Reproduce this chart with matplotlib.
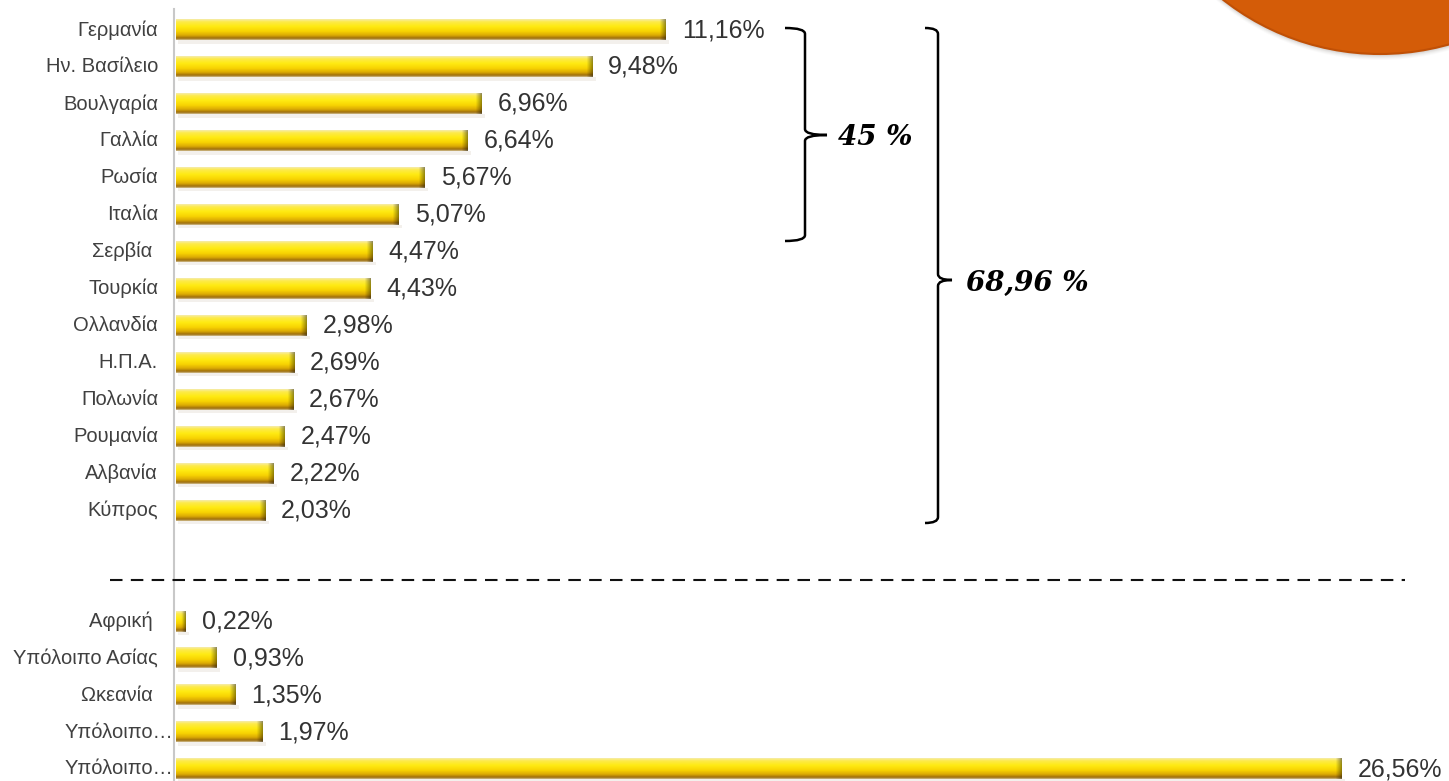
import matplotlib.pyplot as plt
import numpy as np
from matplotlib.colors import LinearSegmentedColormap
from matplotlib.patches import Ellipse, PathPatch
from matplotlib.path import Path

countries = ['Γερμανία', 'Ην. Βασίλειο', 'Βουλγαρία', 'Γαλλία', 'Ρωσία', 'Ιταλία',
             'Σερβία ', 'Τουρκία', 'Ολλανδία', 'Η.Π.Α.', 'Πολωνία', 'Ρουμανία',
             'Αλβανία', 'Κύπρος']
country_vals = [11.16, 9.48, 6.96, 6.64, 5.67, 5.07, 4.47, 4.43, 2.98, 2.69, 2.67,
                2.47, 2.22, 2.03]

regions = ['Αφρική ', 'Υπόλοιπο Ασίας', 'Ωκεανία ', 'Υπόλοιπο…', 'Υπόλοιπο…']
region_vals = [0.22, 0.93, 1.35, 1.97, 26.56]

top6_total = '45 %'
top14_total = '68,96 %'

labels = countries + regions
values = country_vals + region_vals
# two empty rows between the groups
pos = list(range(len(countries))) + list(range(len(countries) + 2, len(countries) + 2 + len(regions)))

plt.rcParams['font.family'] = ['Liberation Sans', 'DejaVu Sans']

fig = plt.figure(figsize=(14.49, 7.81), dpi=100)
ax = fig.add_axes([0, 0, 1, 1])
ax.axis('off')

PX_X = 43.9   # pixels per percent
PX_Y = 36.95  # pixels per row
XMIN, XMAX = -176 / PX_X, (1449 - 176) / PX_X
YTOP, YBOT = -30 / PX_Y, 20 + 12 / PX_Y


def px(x):
    return (x - 176) / PX_X


def py(y):
    return (y - 30) / PX_Y


bar_h = 0.56
grad = LinearSegmentedColormap.from_list('gold', [
    (0.00, '#f6eca8'), (0.12, '#fdea4a'), (0.35, '#ffea12'), (0.58, '#f8d402'),
    (0.78, '#dcaa04'), (0.93, '#9c6c0c'), (1.00, '#cdb886')])
rows = grad(np.linspace(0, 1, 40))[:, :3]

bars = ax.barh(pos, values, height=bar_h, color='none', edgecolor='none')
for b in bars:
    x0, y0, w, h = b.get_x(), b.get_y(), b.get_width(), b.get_height()
    ncol = max(int(w * PX_X), 4)
    img = np.repeat(rows[:, None, :], ncol, axis=1)
    # darker rounded end of the cylinder
    cap = min(6, ncol // 2)
    shade = np.linspace(0.95, 0.6, cap)
    img[:, ncol - cap:, :] *= shade[None, :, None]
    # faint shadow under the bar
    ax.fill_between([x0 + 0.05, x0 + w + 0.08], y0 + h, y0 + h + 0.09,
                    color='#b0a080', alpha=0.15, lw=0)
    ax.imshow(img, extent=(x0, x0 + w, y0, y0 + h), origin='lower',
              aspect='auto', interpolation='bilinear', zorder=2)

for p, lab, v in zip(pos, labels, values):
    # truncated names run up to the axis
    lx = px(173) if lab.endswith('…') else px(158)
    ax.text(lx, p, lab, ha='right', va='center', fontsize=14.5, color='#404040')
    ax.annotate(f'{v:.2f}%'.replace('.', ','), (v, p), xytext=(11.5, 0),
                textcoords='offset points', ha='left', va='center',
                fontsize=18, color='#333333')

# category axis
ax.plot([px(174), px(174)], [py(9), YBOT], color='#c8c8c8', lw=1.5, zorder=1)

# separator between countries and regions
ax.plot([px(110), px(1405)], [py(580), py(580)], color='#111111',
        lw=1.5, dashes=(6, 4))


def brace(x0, x1, xtip, ytop, ybot, ymid, r=0.16):
    verts = [(x0, ytop), (x1, ytop), (x1, ytop + r),
             (x1, ymid - r), (x1, ymid), (xtip, ymid),
             (x1, ymid), (x1, ymid + r),
             (x1, ybot - r), (x1, ybot), (x0, ybot)]
    codes = [Path.MOVETO, Path.CURVE3, Path.CURVE3,
             Path.LINETO, Path.CURVE3, Path.CURVE3,
             Path.CURVE3, Path.CURVE3,
             Path.LINETO, Path.CURVE3, Path.CURVE3]
    ax.add_patch(PathPatch(Path(verts, codes), fill=False, lw=1.8, ec='black'))


brace(px(785), px(805), px(827), py(28), py(241), py(135))
brace(px(925), px(938), px(952), py(28), py(523), py(280))
ax.text(px(838), py(137), top6_total, ha='left', va='center', fontsize=20,
        family='DejaVu Serif', style='italic', weight='bold', color='black')
ax.text(px(966), py(283), top14_total, ha='left', va='center', fontsize=20,
        family='DejaVu Serif', style='italic', weight='bold', color='black')

# orange disc in the corner with a soft shadow
cx, cy, rad = px(1380), py(-200), 254
for k, a in zip(range(6, 0, -1), [0.03, 0.04, 0.05, 0.07, 0.09, 0.11]):
    ax.add_patch(Ellipse((cx, cy + k / PX_Y), 2 * rad / PX_X, 2 * rad / PX_Y,
                         color='#7a6a60', alpha=a, lw=0, zorder=3))
ax.add_patch(Ellipse((cx, cy), 2 * rad / PX_X, 2 * rad / PX_Y, facecolor='#d45c08',
                     edgecolor='#c05006', lw=1.5, zorder=4))

ax.set_xlim(XMIN, XMAX)
ax.set_ylim(YBOT, YTOP)

fig.savefig('out.png', dpi=100)
